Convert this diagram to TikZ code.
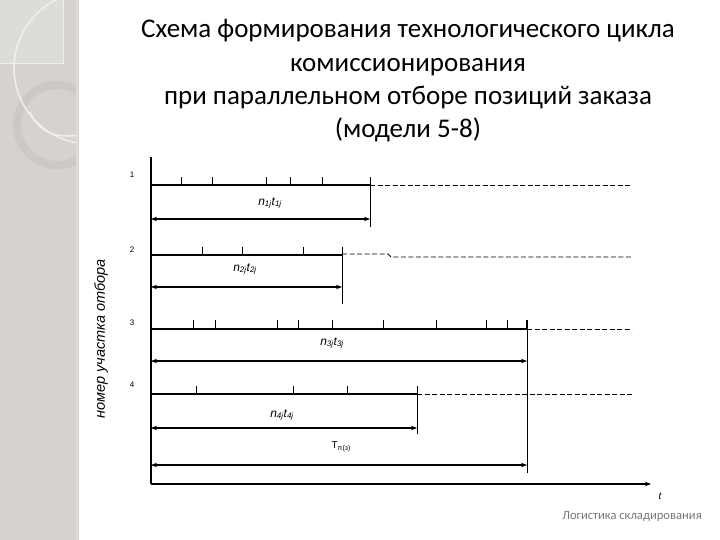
\documentclass[tikz,border=0pt]{standalone}
\usepackage{fontspec}
\setmainfont{Carlito}
\newfontfamily\arialf{Liberation Sans}
\usetikzlibrary{arrows.meta}
\definecolor{panel}{RGB}{214,211,207}
\definecolor{panellight}{RGB}{222,220,217}
\definecolor{ringc}{RGB}{204,201,197}
\definecolor{arcw}{RGB}{240,239,237}
\definecolor{footc}{RGB}{120,120,120}
\begin{document}
\begin{tikzpicture}[x=1pt,y=-1pt,
  main/.style={line width=1.7pt},
  tickl/.style={line width=0.8pt},
  vline/.style={line width=0.9pt},
  dimarr/.style={line width=1.7pt,{Stealth[length=6pt,width=4.5pt]}-{Stealth[length=6pt,width=4.5pt]}},
  axarr/.style={line width=1.7pt,-{Stealth[length=6pt,width=4.5pt]}},
  dsh/.style={line width=0.8pt,dash pattern=on 5pt off 2.5pt},
  rownum/.style={font=\arialf\fontsize{8}{9}\selectfont,inner sep=0pt},
  seglab/.style={font=\arialf\itshape\fontsize{12}{14}\selectfont,inner sep=0pt},
]
\useasboundingbox (0,0) rectangle (720,540);
\fill[white] (0,0) rectangle (720,540);
% left decorative panel
\fill[panel] (0,0) rectangle (79,540);
\begin{scope}
\clip (0,0) rectangle (77,540);
\fill[panellight] (0,0) rectangle (63,63);
\draw[arcw,line width=0.8pt] (0,63) -- (63,63) -- (63,0);
\draw[ringc,line width=8pt] (57,125) circle[radius=40];
\draw[arcw,line width=1.6pt] (90,68) circle[radius=76];
\draw[arcw,line width=1.6pt] (30,112) .. controls (40,135) and (60,138) .. (79,135);
\end{scope}
\draw[panellight,line width=2pt] (77,0) -- (77,540);

% title
\node[font=\fontsize{27}{33.3}\selectfont,align=center,inner sep=0pt] (title) at (408,81)
 {Схема формирования технологического цикла\\комиссионирования\\при параллельном отборе позиций заказа\\(модели 5-8)};

% axes
\coordinate (ytop) at (151,157);
\coordinate (orig) at (151,484);
\coordinate (xend) at (651,484);
\draw[main] (ytop) -- (orig);
\draw[axarr] (orig) -- (xend);
\node[font=\arialf\itshape\fontsize{10}{12}\selectfont,inner sep=0pt] (tlab) at (660,496) {t};
\node[font=\arialf\itshape\fontsize{14.5}{16}\selectfont,rotate=90,inner sep=0pt] (ylab) at (101,339) {номер участка отбора};

% row 1
\node[rownum] (r1) at (132,175) {1};
\coordinate (a1) at (151,185); \coordinate (b1) at (370,185); \coordinate (c1) at (632,185);
\draw[main] (a1) -- (b1);
\foreach \x in {181,212,266,290,322} \draw[tickl] (\x,185) -- (\x,177);
\draw[vline] (370,177) -- (370,227);
\draw[dsh] (b1) -- (c1);
\draw[dimarr] (151,219) -- (370,219);
\node[seglab] (l1) at (270,203) {n\textsubscript{1j}t\textsubscript{1j}};

% row 2
\node[rownum] (r2) at (132,250) {2};
\coordinate (a2) at (151,255); \coordinate (b2) at (342,255);
\draw[main] (a2) -- (b2);
\foreach \x in {202,242,303,342} \draw[tickl] (\x,255) -- (\x,247);
\draw[vline] (342,247) -- (342,304);
\draw[dsh] (342,254) -- (388,254) -- (391,257) -- (632,257);
\draw[dimarr] (151,287) -- (342,287);
\node[seglab] (l2) at (245,269) {n\textsubscript{2j}t\textsubscript{2j}};

% row 3
\node[rownum] (r3) at (132,323) {3};
\coordinate (a3) at (151,329); \coordinate (b3) at (527,329); \coordinate (c3) at (632,329);
\draw[main] (a3) -- (b3);
\foreach \x in {193,215,277,298,332,383,436,486,507,526} \draw[tickl] (\x,329) -- (\x,320);
\draw[vline] (527,320) -- (527,473);
\draw[dsh] (b3) -- (c3);
\draw[dimarr] (151,361) -- (527,361);
\node[seglab] (l3) at (332,343) {n\textsubscript{3j}t\textsubscript{3j}};

% row 4
\node[rownum] (r4) at (132,385) {4};
\coordinate (a4) at (151,394); \coordinate (b4) at (417,394); \coordinate (c4) at (632,394);
\draw[main] (a4) -- (b4);
\foreach \x in {196,293,347,417} \draw[tickl] (\x,394) -- (\x,386);
\draw[vline] (417,386) -- (417,434);
\draw[dsh] (b4) -- (c4);
\draw[dimarr] (151,428) -- (417,428);
\node[seglab] (l4) at (282,415) {n\textsubscript{4j}t\textsubscript{4j}};

% total
\draw[dimarr] (151,465) -- (527,465);
\node[font=\arialf\fontsize{10}{12}\selectfont,inner sep=0pt] (ttot) at (341,447) {T\raisebox{-0.4ex}{\fontsize{7}{8}\selectfont π(з)}};

% footer
\node[font=\fontsize{12.6}{14}\selectfont,text=footc,inner sep=0pt] (foot) at (632,516) {Логистика складирования};
\end{tikzpicture}
\end{document}
